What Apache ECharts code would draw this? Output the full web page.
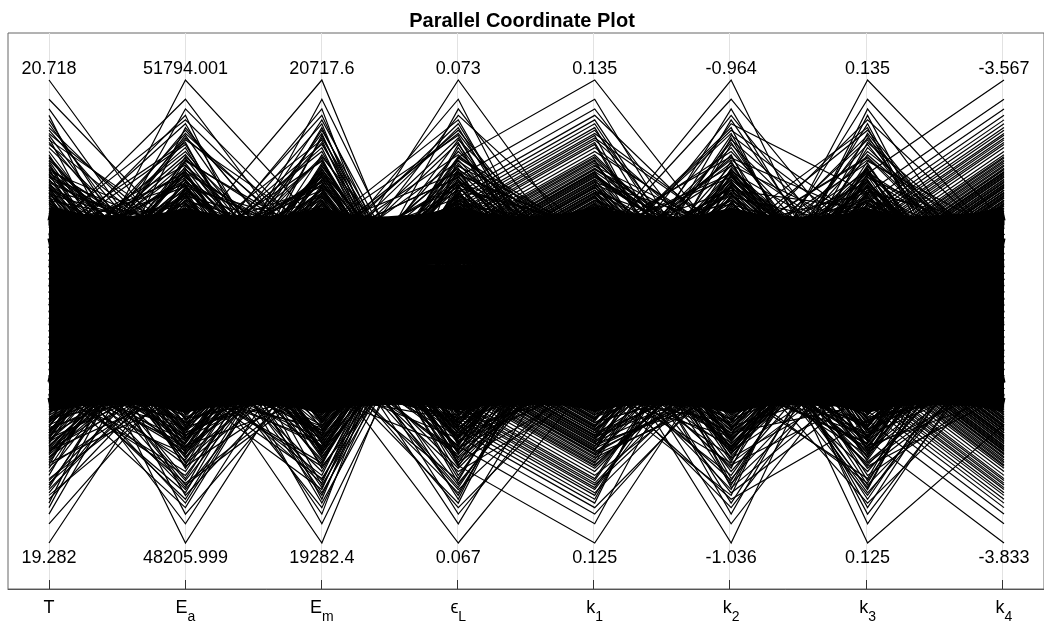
<!DOCTYPE html>
<html>
<head>
<meta charset="utf-8">
<script src="https://cdn.jsdelivr.net/npm/echarts@6.0.0/dist/echarts.min.js"></script>
<style>
html,body{margin:0;padding:0;background:#fff;}
#chart{width:1044px;height:626px;}
</style>
</head>
<body>
<div id="chart"></div>
<script>
// ---------- data ----------
const axisMain = ['T', 'E', 'E', 'ϵ', 'k', 'k', 'k', 'k'];
const axisSub  = ['',  'a', 'm', 'L', '1', '2', '3', '4'];
const nominal  = [20, 50000, 20000, 0.07, 0.13, -1, 0.13, -3.7];
const spreadPct = 3.588;               // data range = nominal ± 3.588 % of |nominal|
const topLabels    = ['20.718', '51794.001', '20717.6', '0.073', '0.135', '-0.964', '0.135', '-3.567'];
const bottomLabels = ['19.282', '48205.999', '19282.4', '0.067', '0.125', '-1.036', '0.125', '-3.833'];

// each line: deviation of [T, Ea, Em, eL, k1, k2, k3, k4] from nominal, in % of |nominal| (upward = positive)
const coreLines = [
  [1.27,1.22,1.28,1.24,1.26,1.21,1.27,1.23],[1.10,1.14,1.08,1.12,1.09,1.13,1.07,1.11],
  [0.93,0.97,0.95,0.91,0.98,0.94,0.96,0.92],[0.82,0.78,0.80,0.84,0.77,0.81,0.79,0.83],
  [0.63,0.67,0.65,0.62,0.66,0.64,0.68,0.63],[0.50,0.48,0.53,0.49,0.51,0.47,0.52,0.50],
  [0.33,0.37,0.34,0.36,0.32,0.35,0.38,0.34],[0.20,0.18,0.22,0.19,0.21,0.23,0.17,0.20],
  [0.04,0.07,0.03,0.06,0.05,0.02,0.06,0.04],[-0.10,-0.12,-0.08,-0.11,-0.09,-0.13,-0.10,-0.07],
  [-0.26,-0.23,-0.27,-0.24,-0.28,-0.25,-0.22,-0.26],[-0.40,-0.43,-0.38,-0.41,-0.39,-0.42,-0.40,-0.37],
  [-0.55,-0.52,-0.57,-0.54,-0.56,-0.53,-0.58,-0.55],[-0.70,-0.72,-0.68,-0.71,-0.69,-0.73,-0.67,-0.70],
  [-0.86,-0.83,-0.87,-0.84,-0.88,-0.85,-0.82,-0.86],[-1.00,-1.03,-0.98,-1.01,-0.99,-1.02,-1.00,-0.97],
  [-1.15,-1.12,-1.17,-1.14,-1.16,-1.13,-1.18,-1.15],[-1.27,-1.24,-1.29,-1.26,-1.28,-1.23,-1.27,-1.25],
  [1.52,1.05,1.50,1.00,1.52,1.04,1.49,1.02],[1.02,1.50,1.04,1.52,1.00,1.50,1.03,1.52],
  [1.44,1.30,1.43,1.28,1.45,1.30,1.42,1.29],[1.29,1.43,1.30,1.44,1.28,1.42,1.31,1.45],
  [-1.45,-1.00,-1.47,-0.96,-1.44,-1.02,-1.46,-0.99],[-0.98,-1.46,-1.01,-1.43,-0.97,-1.47,-1.00,-1.45],
  [-1.38,-1.30,-1.39,-1.29,-1.37,-1.31,-1.38,-1.30],[-1.30,-1.38,-1.29,-1.37,-1.31,-1.39,-1.30,-1.38]
];

const fringeLinesA = [
  [3.588,0.7,3.04,-1.46,-2.66,-0.5,-2.17,0.3],[-3.588,-0.4,-3.04,1.46,2.66,0.8,2.17,-0.9],
  [3.29,1.1,-2.69,0.82,2.02,0.2,-2.76,1.2],[-3.29,-0.9,2.69,-0.82,-2.02,-1.1,2.76,0.1],
  [3.14,0.2,2.38,-1.71,-2.91,1.0,-1.88,-0.6],[-3.14,0.5,-2.38,1.71,2.91,-0.3,1.88,0.8],
  [3.04,-1.2,-2.02,1.13,2.33,0.6,-2.54,-1.1],[-3.04,0.9,2.02,-1.13,-2.33,-0.8,2.54,0.5],
  [2.97,-0.3,1.66,-0.46,-1.66,1.2,-3.29,-0.2],[-2.97,1.3,-1.66,0.46,1.66,-0.1,3.29,1.0],
  [2.91,0.0,-2.85,1.42,2.62,-0.9,-2.22,0.6],[-2.91,-0.7,2.85,-1.42,-2.62,0.4,2.22,-1.3],
  [2.85,0.8,2.59,-0.77,-1.97,0.0,-2.81,-0.4],[-2.85,-1.1,-2.59,0.77,1.97,1.1,2.81,0.2],
  [2.81,0.4,-2.22,1.65,2.85,-0.6,-1.93,0.9],[-2.81,-0.2,2.22,-1.65,-2.85,0.7,1.93,-0.7],
  [2.76,1.0,1.88,-1.07,-2.27,-1.2,-2.59,1.1],[-2.76,-0.6,-1.88,1.07,2.27,0.3,2.59,-0.1],
  [2.73,-0.1,-3.14,2.39,3.588,0.9,-3.588,-1.75],[-2.73,0.6,3.14,-2.39,-3.588,-0.4,3.588,1.4],
  [2.69,-1.3,2.73,-1.39,-2.59,0.5,-2.27,0.7],[-2.69,0.3,-2.73,1.39,2.59,-1.0,2.27,-0.5],
  [2.66,1.2,-2.43,0.73,1.93,-0.2,-2.85,0.0],[-2.66,-0.8,2.43,-0.73,-1.93,1.3,2.85,-1.2],
  [2.62,0.1,2.08,-1.61,-2.81,-0.7,-1.97,1.3],[-2.62,-0.5,-2.08,1.61,2.81,0.1,1.97,-0.3],
  [2.59,0.9,-1.72,1.02,2.22,0.8,-2.62,0.5],[-2.59,-1.0,1.72,-1.02,-2.22,-1.3,2.62,0.8],
  [2.54,0.5,2.91,-2.09,-3.29,0.6,-1.66,-0.8],[-2.54,1.1,-2.91,2.09,3.29,-0.2,1.66,0.1],
  [2.48,-0.3,-2.62,1.34,2.54,1.0,-2.33,-0.6],[-2.48,0.2,2.62,-1.34,-2.54,-0.9,2.33,1.2],
  [2.43,-0.9,2.27,-0.68,-1.88,0.3,-2.91,0.2],[-2.43,0.7,-2.27,0.68,1.88,-0.5,2.91,-1.1],
  [2.38,-0.1,-1.93,1.56,2.76,1.2,-2.02,0.6],[-2.38,1.2,1.93,-1.56,-2.76,0.0,2.02,-0.4],
  [2.33,-0.6,3.29,-0.97,-2.17,-1.1,-2.66,0.9],[-2.33,0.4,-3.29,0.97,2.17,0.7,2.66,0.0],
  [2.27,-1.2,-2.76,1.94,3.14,0.4,-1.72,-0.7],[-2.27,0.0,2.76,-1.94,-3.14,-0.8,1.72,1.1],
  [2.22,0.8,2.48,-1.28,-2.48,-0.3,-2.38,-0.2],[-2.22,-0.4,-2.48,1.28,2.48,1.1,2.38,0.3],
  [2.17,1.3,-2.13,0.64,1.84,-0.6,-2.97,-0.9],[-2.17,-0.7,2.13,-0.64,-1.84,0.9,2.97,1.0],
  [2.13,0.3,1.78,-1.53,-2.73,0.2,-2.08,-1.3],[-2.13,-1.0,-1.78,1.53,2.73,-1.2,2.08,0.7],
  [2.08,0.6,-2.97,0.93,2.13,0.5,-2.69,-0.5],[-2.08,-0.2,2.97,-0.93,-2.13,-0.1,2.69,0.4],
  [2.02,1.0,2.66,-1.84,-3.04,-0.9,-1.78,1.2],[-2.02,-0.8,-2.66,1.84,3.04,1.0,1.78,-0.1],
  [1.97,0.1,-2.33,1.23,2.43,0.3,-2.43,-0.8],[-1.97,0.9,2.33,-1.23,-2.43,-0.4,2.43,0.6],
  [1.93,-1.1,1.97,-0.58,-1.78,0.7,-3.04,0.2],[-1.93,0.5,-1.97,0.58,1.78,-1.0,3.04,-1.0],
  [1.88,-0.5,-3.588,1.49,2.69,1.2,-2.13,0.9],[-1.88,1.1,3.588,-1.49,-2.69,-0.7,2.13,-0.3],
  [1.84,-0.3,2.81,-0.88,-2.08,0.0,-2.73,1.1],[-1.84,0.2,-2.81,0.88,2.08,0.6,2.73,-0.6],
  [1.78,-0.9,-2.54,1.77,2.97,-0.2,-1.84,0.5],[-1.78,0.7,2.54,-1.77,-2.97,1.3,1.84,-1.2],
  [1.72,-0.1,2.17,-1.18,-2.38,-0.5,-2.48,0.0],[-1.72,1.2,-2.17,1.18,2.38,0.1,2.48,0.8],
  [1.66,-0.6,-1.84,0.52,1.72,0.8,-3.14,-0.4],[-1.66,0.4,1.84,-0.52,-1.72,-1.1,3.14,0.3]
];

const fringeLinesB = [
  [-0.6,3.14,1.0,2.81,0.2,-2.38,-1.31,-2.91],[0.9,-3.14,-0.7,-2.81,0.6,2.38,1.46,2.91],
  [0.3,2.81,0.4,-2.33,-1.1,2.22,-0.94,-2.54],[-1.0,-2.81,0.8,2.33,0.9,-2.22,1.09,2.54],
  [1.2,2.62,-1.2,1.78,-0.3,-2.08,-0.48,-2.08],[-0.2,-2.62,0.1,-1.78,1.2,2.08,0.63,2.08],
  [0.5,2.38,-0.4,-2.76,-0.8,1.93,-1.99,-3.588],[-0.8,-2.38,1.1,2.76,0.0,-1.93,2.14,3.588],
  [0.0,2.13,-0.9,2.27,0.5,-1.78,-1.13,-2.73],[1.1,-2.13,0.6,-2.27,-0.6,1.78,1.28,2.73],
  [-1.3,1.88,0.2,-1.72,1.0,3.588,-0.73,-2.33],[0.4,-1.88,-1.0,1.72,-0.2,-3.588,0.88,2.33],
  [-0.5,3.588,1.3,2.73,-0.9,-3.04,-0.28,-1.88],[0.7,-3.588,-0.3,-2.73,0.4,3.04,0.43,1.88],
  [1.0,2.91,-0.6,-2.22,0.8,2.85,-1.37,-2.97],[-0.9,-2.91,0.5,2.22,-1.2,-2.85,1.52,2.97],
  [0.2,2.69,0.9,1.66,1.3,-2.73,-0.99,-2.59],[-0.1,-2.69,-1.1,-1.66,-0.4,2.73,1.14,2.59],
  [0.8,2.48,0.0,-2.69,0.1,2.62,-0.53,-2.13],[-1.2,-2.48,0.7,2.69,-0.7,-2.62,0.68,2.13],
  [0.6,2.22,-0.5,2.17,0.3,-2.48,-0.06,-1.66],[-0.4,-2.22,1.2,-2.17,1.1,2.48,0.21,1.66],
  [1.3,1.97,-0.8,-3.588,-1.0,2.33,-1.16,-2.76],[-0.7,-1.97,0.3,3.588,0.7,-2.33,1.31,2.76],
  [-0.3,1.72,-0.2,2.66,0.6,-2.17,-0.78,-2.38],[0.1,-1.72,1.0,-2.66,-0.1,2.17,0.93,2.38],
  [0.9,3.04,-1.3,-2.13,-0.5,2.02,-0.33,-1.93],[-1.1,-3.04,0.4,2.13,1.2,-2.02,0.48,1.93],
  [0.5,2.76,0.8,3.29,-0.8,-1.88,-1.44,-3.04],[-0.6,-2.76,-0.1,-3.29,0.2,1.88,1.59,3.04],
  [1.1,2.59,-0.9,-2.62,0.9,1.72,-1.02,-2.62],[0.0,-2.59,0.6,2.62,-1.3,-1.72,1.17,2.62],
  [-0.8,2.33,1.1,2.08,0.0,-3.29,-0.57,-2.17],[0.3,-2.33,-0.4,-2.08,1.0,3.29,0.72,2.17],
  [-1.0,2.08,0.2,-3.14,-0.6,2.97,-0.12,-1.72],[0.7,-2.08,-0.7,3.14,0.4,-2.97,0.27,1.72],
  [0.4,1.84,-1.1,2.59,-0.2,-2.81,-1.21,-2.81],[-0.2,-1.84,0.9,-2.59,0.8,2.81,1.36,2.81],
  [1.2,3.29,0.5,-2.02,-1.1,2.69,-0.83,-2.43],[-0.5,-3.29,0.0,2.02,0.5,-2.69,0.98,2.43],
  [-1.3,2.85,0.3,3.04,1.1,-2.59,-0.37,-1.97],[0.8,-2.85,-0.6,-3.04,-0.9,2.59,0.52,1.97],
  [0.1,2.66,1.2,-2.54,0.3,2.43,-1.54,-3.14],[-0.9,-2.66,-1.0,2.54,-0.4,-2.43,1.69,3.14],
  [0.6,2.43,-0.2,1.97,0.7,-2.27,-1.06,-2.66],[1.0,-2.43,0.7,-1.97,-0.1,2.27,1.21,2.66],
  [-0.4,2.17,-0.8,-2.97,1.2,2.13,-0.62,-2.22],[0.2,-2.17,1.3,2.97,-0.7,-2.13,0.77,2.22],
  [-1.1,1.93,0.1,2.48,0.4,-1.97,-0.18,-1.78],[0.9,-1.93,-0.5,-2.48,-1.2,1.97,0.33,1.78],
  [-0.1,1.66,0.6,-1.93,0.9,1.84,-1.25,-2.85],[0.5,-1.66,-1.2,1.93,0.0,-1.84,1.40,2.85],
  [1.3,2.97,0.9,2.91,-0.5,-1.66,-0.88,-2.48],[-0.7,-2.97,0.4,-2.91,1.3,1.66,1.03,2.48],
  [0.0,2.73,-0.3,-2.43,-0.3,3.14,-0.42,-2.02],[-0.3,-2.73,1.0,2.43,0.6,-3.14,0.57,2.02],
  [0.7,2.54,-0.9,1.88,-1.0,-2.91,-1.69,-3.29],[-1.2,-2.54,0.2,-1.88,0.1,2.91,1.84,3.29],
  [1.1,2.27,-0.1,-2.85,0.8,2.76,-1.09,-2.69],[0.3,-2.27,0.8,2.85,-0.6,-2.76,1.24,2.69],
  [-0.8,2.02,-0.6,2.38,1.0,-2.66,-0.67,-2.27],[0.4,-2.02,1.1,-2.38,-0.2,2.66,0.82,2.27],
  [-0.6,1.78,0.0,-1.84,0.5,2.54,-0.24,-1.84],[1.0,-1.78,-1.3,1.84,-0.9,-2.54,0.39,1.84]
];

const hatchLinesC = [
  [2.25,0.3,1.88,-0.95,-2.15,0.9,-1.64,-0.2],[-2.25,-0.8,-1.88,0.95,2.15,-0.3,1.64,1.1],
  [2.00,1.0,-1.60,0.48,1.68,-1.0,-2.10,0.5],[-2.00,-0.2,1.60,-0.48,-1.68,0.5,2.10,-0.9],
  [1.80,0.6,2.35,-1.05,-2.25,0.1,-1.56,0.8],[-1.80,-1.1,-2.35,1.05,2.25,1.2,1.56,-0.4],
  [1.60,0.1,-2.00,0.56,1.76,-0.7,-2.00,1.2],[-1.60,0.9,2.00,-0.56,-1.76,-0.2,2.00,0.0],
  [1.40,-0.5,1.72,-1.15,-2.35,0.8,-1.48,-1.0],[-1.40,1.2,-1.72,1.15,2.35,-1.1,1.48,0.3],
  [2.20,-0.9,-1.44,0.64,1.84,0.4,-1.92,0.7],[-2.20,0.4,1.44,-0.64,-1.84,0.0,1.92,-1.2],
  [1.96,-0.3,2.15,-0.20,-1.40,1.1,-1.40,-0.1],[-1.96,0.7,-2.15,0.20,1.40,-0.6,1.40,0.9],
  [1.76,-1.2,-1.84,0.72,1.92,0.3,-1.84,-0.6],[-1.76,0.2,1.84,-0.72,-1.92,-0.9,1.84,0.4],
  [1.56,1.1,1.56,-0.28,-1.48,-0.4,-2.35,-0.8],[-1.56,-0.6,-1.56,0.28,1.48,0.7,2.35,1.0],
  [2.40,0.0,-2.30,0.80,2.00,1.3,-1.76,0.2],[-2.40,-1.0,2.30,-0.80,-2.00,-0.8,1.76,-0.5],
  [2.15,0.8,1.96,-0.36,-1.56,0.2,-2.25,1.3],[-2.15,-0.4,-1.96,0.36,1.56,-1.2,2.25,-0.3],
  [1.92,0.5,-1.68,0.90,2.10,0.6,-1.68,-1.1],[-1.92,-0.7,1.68,-0.90,-2.10,1.0,1.68,0.6],
  [1.72,1.3,1.40,-0.44,-1.64,-0.5,-2.15,0.1],[-1.72,-0.1,-1.40,0.44,1.64,0.1,2.15,-0.7],
  [1.52,-0.8,-2.10,1.00,2.20,0.9,-1.60,0.8],[-1.52,0.6,2.10,-1.00,-2.20,-0.3,1.60,-0.2],
  [2.35,0.2,1.80,-0.52,-1.72,-1.1,-2.05,0.5],[-2.35,-1.3,-1.80,0.52,1.72,0.5,2.05,-1.0],
  [2.10,0.9,-1.52,1.10,2.30,-0.1,-1.52,1.1],[-2.10,-0.2,1.52,-1.10,-2.30,0.8,1.52,-0.4],
  [1.88,-0.6,2.25,-0.60,-1.80,1.2,-1.96,0.3],[-1.88,1.0,-2.25,0.60,1.80,-0.7,1.96,-0.9],
  [1.68,0.4,-1.92,1.20,2.40,0.3,-1.44,0.0],[-1.68,-0.9,1.92,-1.20,-2.40,-0.4,1.44,0.7],
  [1.48,0.1,1.64,-0.68,-1.88,-1.0,-1.88,-0.6],[-1.48,0.7,-1.64,0.68,1.88,0.6,1.88,1.2],
  [2.30,-1.1,-2.40,0.24,1.44,0.0,-2.40,-1.3],[-2.30,0.3,2.40,-0.24,-1.44,1.1,2.40,0.4],
  [2.05,-0.4,2.05,-0.76,-1.96,-0.8,-1.80,0.9],[-2.05,1.2,-2.05,0.76,1.96,0.4,1.80,-0.1],
  [1.84,-0.7,-1.76,0.32,1.52,-0.2,-2.30,0.6],[-1.84,0.0,1.76,-0.32,-1.52,0.9,2.30,-0.8],
  [1.64,0.8,1.48,-0.85,-2.05,-1.3,-1.72,0.2],[-1.64,-0.5,-1.48,0.85,2.05,0.7,1.72,1.0],
  [1.44,1.1,-2.20,0.40,1.60,0.2,-2.20,-0.5],[-1.44,-0.3,2.20,-0.40,-1.60,-0.6,2.20,-1.2]
];

const hatchLinesD = [
  [0.5,2.30,-0.4,1.80,0.8,-2.05,0.04,-1.56],[-1.0,-2.30,0.7,-1.80,-0.2,2.05,0.11,1.56],
  [0.2,1.96,1.1,-1.60,-0.7,1.52,-0.50,-2.10],[0.8,-1.96,-0.9,1.60,1.0,-1.52,0.65,2.10],
  [-0.6,1.68,0.3,1.40,0.4,-1.96,-0.04,-1.64],[1.1,-1.68,-0.2,-1.40,-1.1,1.96,0.19,1.64],
  [-0.3,1.40,0.8,-2.20,0.1,1.44,-0.60,-2.20],[0.0,-1.40,-1.2,2.20,0.6,-1.44,0.75,2.20],
  [1.2,2.10,0.0,1.96,-0.9,-1.88,-0.12,-1.72],[-0.8,-2.10,0.5,-1.96,0.3,1.88,0.27,1.72],
  [0.4,1.80,-0.7,-1.76,1.2,2.40,-0.70,-2.30],[-1.2,-1.80,1.0,1.76,-0.5,-2.40,0.85,2.30],
  [0.7,1.52,-1.1,1.56,0.0,-1.80,-0.20,-1.80],[-0.1,-1.52,0.2,-1.56,-0.8,1.80,0.35,1.80],
  [-0.5,2.25,0.6,-2.40,0.7,2.30,-0.80,-2.40],[0.9,-2.25,-0.5,2.40,1.1,-2.30,0.95,2.40],
  [0.1,1.92,1.3,2.15,-0.3,-1.72,-0.28,-1.88],[-0.7,-1.92,-0.8,-2.15,0.5,1.72,0.43,1.88],
  [1.3,1.64,-0.1,-1.92,-1.0,2.20,0.16,-1.44],[-0.4,-1.64,0.9,1.92,0.2,-2.20,-0.01,1.44],
  [-0.9,2.40,0.4,1.72,0.9,-1.64,-0.36,-1.96],[0.6,-2.40,-1.0,-1.72,-0.6,1.64,0.51,1.96],
  [0.3,2.05,-0.3,-1.52,-1.2,2.10,0.08,-1.52],[-1.1,-2.05,0.7,1.52,0.4,-2.10,0.07,1.52],
  [1.0,1.76,-0.6,2.35,0.1,-1.56,-0.45,-2.05],[-0.2,-1.76,1.2,-2.35,0.8,1.56,0.60,2.05],
  [-0.6,1.48,0.1,-2.10,-0.4,2.00,0.00,-1.60],[0.8,-1.48,-0.9,2.10,-0.1,-2.00,0.15,1.60],
  [0.0,2.20,0.5,1.88,1.3,-1.48,-0.55,-2.15],[-1.3,-2.20,0.3,-1.88,-0.7,1.48,0.70,2.15],
  [0.5,1.88,-1.3,-1.68,0.6,1.92,-0.08,-1.68],[0.2,-1.88,0.8,1.68,-1.0,-1.92,0.23,1.68],
  [-0.8,1.60,-0.2,1.48,0.3,-1.40,-0.65,-2.25],[1.1,-1.60,0.0,-1.48,0.9,1.40,0.80,2.25],
  [-0.4,2.35,1.0,-2.30,-0.5,1.84,-0.16,-1.76],[0.7,-2.35,-0.7,2.30,0.0,-1.84,0.31,1.76],
  [0.9,2.00,-0.4,2.05,-1.1,-2.35,-0.75,-2.35],[-1.0,-2.00,0.6,-2.05,0.7,2.35,0.90,2.35],
  [0.1,1.72,1.1,-1.84,0.2,1.76,-0.24,-1.84],[-0.3,-1.72,-0.8,1.84,-0.3,-1.76,0.39,1.84],
  [1.2,1.44,0.2,1.64,-0.8,-2.25,0.20,-1.40],[-0.6,-1.44,-1.1,-1.64,1.0,2.25,-0.05,1.40],
  [-0.2,2.15,0.9,-1.44,0.5,1.68,-0.32,-1.92],[0.4,-2.15,-0.3,1.44,-0.6,-1.68,0.47,1.92],
  [-0.9,1.84,0.4,2.25,1.2,-2.15,0.12,-1.48],[0.6,-1.84,-0.6,-2.25,-0.2,2.15,0.03,1.48],
  [1.0,1.56,0.7,-2.00,-0.9,1.60,-0.40,-2.00],[-0.5,-1.56,0.1,2.00,0.4,-1.60,0.55,2.00]
];

const hatchLinesE = [
  [2.00,-0.7,-1.58,0.92,2.12,0.6,-1.88,1.0],[-2.00,0.4,1.58,-0.92,-2.12,-1.1,1.88,-0.3],
  [-1.79,1.0,-2.20,0.50,1.70,0.0,1.55,-0.8],[1.79,-1.2,2.20,-0.50,-1.70,0.9,-1.55,0.5],
  [1.58,0.2,-2.00,0.84,2.04,-0.5,-1.94,1.2],[-1.58,0.8,2.00,-0.84,-2.04,0.3,1.94,-1.1],
  [-2.12,-0.4,-1.85,0.44,1.64,1.2,1.61,0.2],[2.12,-0.9,1.85,-0.44,-1.64,-0.8,-1.61,0.7],
  [1.88,1.3,-1.70,0.77,1.97,-0.2,-2.00,-0.5],[-1.88,0.0,1.70,-0.77,-1.97,1.0,2.00,-0.1],
  [-1.67,-0.5,-1.55,0.38,1.58,-1.3,1.67,0.9],[1.67,0.6,1.55,-0.38,-1.58,0.4,-1.67,-1.2],
  [1.46,1.1,-2.16,0.71,1.91,0.7,-2.08,0.4],[-1.46,-0.3,2.16,-0.71,-1.91,-0.6,2.08,1.1],
  [-1.97,-1.0,-1.97,0.32,1.52,0.1,1.73,-0.7],[1.97,0.5,1.97,-0.32,-1.52,-0.9,-1.73,0.0],
  [1.76,0.9,-1.82,0.65,1.85,1.1,-2.16,-0.4],[-1.76,-0.8,1.82,-0.65,-1.85,0.2,2.16,0.8],
  [-1.55,0.1,-1.67,0.26,1.46,-1.0,1.79,-1.3],[1.55,-0.6,1.67,-0.26,-1.46,0.8,-1.79,0.6],
  [2.08,1.2,-1.52,0.59,1.79,-0.4,-1.46,0.1],[-2.08,-0.2,1.52,-0.59,-1.79,0.5,1.46,-0.9],
  [-1.85,0.3,-2.12,0.96,2.16,-0.7,1.85,1.3],[1.85,-1.1,2.12,-0.96,-2.16,1.3,-1.85,-0.2],
  [1.64,0.7,-1.94,0.53,1.73,0.0,-1.52,-0.6],[-1.64,-1.3,1.94,-0.53,-1.73,-0.3,1.52,0.9],
  [-2.20,0.0,-1.79,0.88,2.08,0.9,1.91,0.3],[2.20,0.9,1.79,-0.88,-2.08,-1.2,-1.91,-1.0],
  [1.94,-0.4,-1.64,0.47,1.67,0.4,-1.58,1.1],[-1.94,1.0,1.64,-0.47,-1.67,0.6,1.58,-0.4],
  [-1.73,0.2,-1.49,0.80,2.00,-0.8,1.97,0.0],[1.73,-0.7,1.49,-0.80,-2.00,1.0,-1.97,0.7],
  [1.52,-1.1,-2.08,0.41,1.61,-0.1,-1.64,-1.2],[-1.52,0.6,2.08,-0.41,-1.61,0.7,1.64,0.5],
  [-2.04,0.4,-1.91,0.74,1.94,-0.5,2.04,-0.8],[2.04,-0.1,1.91,-0.74,-1.94,-1.1,-2.04,1.2],
  [1.82,1.2,-1.76,0.35,1.55,0.3,-1.70,-0.1],[-1.82,-0.9,1.76,-0.35,-1.55,1.2,1.70,-0.5],
  [-1.61,-0.3,-1.61,0.68,1.88,-0.6,2.12,0.8],[1.61,0.8,1.61,-0.68,-1.88,0.0,-2.12,-1.1],
  [2.16,0.5,-1.46,0.29,1.49,-0.9,-1.76,0.6],[-2.16,-1.2,1.46,-0.29,-1.49,0.8,1.76,0.2],
  [-1.91,1.1,-2.04,0.62,1.82,0.2,2.20,-0.3],[1.91,-0.5,2.04,-0.62,-1.82,-0.4,-2.20,1.0],
  [1.70,-0.8,-1.88,1.00,2.20,1.1,-1.82,-0.9],[-1.70,0.3,1.88,-1.00,-2.20,-1.0,1.82,0.4],
  [-1.49,0.0,-1.73,0.56,1.76,0.5,1.49,-1.3],[1.49,0.7,1.73,-0.56,-1.76,-0.2,-1.49,0.1]
];

const hatchLinesF = [
  [0.8,2.04,-0.3,-1.55,1.1,1.88,-0.13,-1.73],[-0.5,-2.04,0.9,1.55,-0.4,-1.88,0.28,1.73],
  [-1.1,-1.70,0.5,-1.88,0.2,1.73,0.07,1.52],[0.3,1.70,-1.0,1.88,-0.9,-1.73,0.08,-1.52],
  [0.6,2.12,-0.6,-1.49,0.7,1.58,-0.44,-2.04],[-0.9,-2.12,1.2,1.49,0.0,-1.58,0.59,2.04],
  [1.2,-1.76,0.0,-1.82,-1.2,2.20,0.37,1.82],[0.0,1.76,-0.8,1.82,0.5,-2.20,-0.22,-1.82],
  [-0.3,2.20,0.7,-2.20,-0.6,2.00,-0.01,-1.61],[1.0,-2.20,-0.2,2.20,0.9,-2.00,0.16,1.61],
  [-0.7,-1.82,1.1,-1.76,0.3,1.85,0.71,2.16],[0.4,1.82,-1.2,1.76,-0.3,-1.85,-0.56,-2.16],
  [-1.3,1.49,0.3,-2.12,-1.0,1.70,-0.31,-1.91],[0.2,-1.49,-0.5,2.12,1.2,-1.70,0.46,1.91],
  [0.9,-1.88,-0.9,-1.70,0.1,1.55,0.25,1.70],[-0.6,1.88,0.6,1.70,-0.7,-1.55,-0.10,-1.70],
  [0.5,1.55,1.3,-2.04,0.8,2.16,0.11,-1.49],[-1.0,-1.55,-0.1,2.04,0.4,-2.16,0.04,1.49],
  [-0.2,-1.94,0.4,-1.64,-1.1,1.97,0.55,2.00],[1.1,1.94,-0.7,1.64,-0.2,-1.97,-0.40,-2.00],
  [0.1,1.61,-1.1,-1.97,0.6,1.82,-0.19,-1.79],[-0.8,-1.61,0.8,1.97,1.0,-1.82,0.34,1.79],
  [0.7,-2.00,0.2,-1.58,-0.5,1.67,0.13,1.58],[-0.4,2.00,1.0,1.58,-0.8,-1.67,0.02,-1.58],
  [1.3,1.67,-0.4,-1.91,0.0,1.52,-0.52,-2.12],[-1.2,-1.67,0.0,1.91,1.3,-1.52,0.67,2.12],
  [0.0,-2.08,-1.3,-1.52,-0.9,2.12,0.43,1.88],[0.6,2.08,0.5,1.52,0.2,-2.12,-0.28,-1.88],
  [-0.5,1.73,0.9,-1.85,0.5,1.94,-0.07,-1.67],[0.3,-1.73,-0.6,1.85,-1.3,-1.94,0.22,1.67],
  [-0.9,-2.16,0.1,-1.46,0.9,1.79,0.01,1.46],[1.0,2.16,-0.9,1.46,-0.1,-1.79,0.14,-1.46],
  [0.4,1.79,1.2,-1.79,-0.6,1.64,-0.37,-1.97],[-0.1,-1.79,-0.3,1.79,0.4,-1.64,0.52,1.97],
  [-1.1,-1.46,0.6,-2.16,1.1,1.49,0.31,1.76],[0.8,1.46,-1.0,2.16,-0.4,-1.49,-0.16,-1.76],
  [-0.6,1.85,0.7,-1.73,0.0,2.08,0.05,-1.55],[0.2,-1.85,0.3,1.73,-1.0,-2.08,0.10,1.55],
  [1.2,-1.52,-0.5,-2.08,0.7,1.91,0.63,2.08],[-0.3,1.52,1.1,2.08,0.3,-1.91,-0.48,-2.08],
  [-0.8,1.91,-0.2,-1.67,-0.2,1.76,-0.25,-1.85],[0.5,-1.91,-0.8,1.67,0.8,-1.76,0.40,1.85],
  [0.9,-1.58,0.4,-2.00,-0.7,1.61,0.19,1.64],[-1.0,1.58,0.8,2.00,1.2,-1.61,-0.04,-1.64],
  [0.1,1.97,-1.2,-1.61,0.6,1.46,-0.60,-2.20],[-0.4,-1.97,0.0,1.61,-1.1,-1.46,0.75,2.20],
  [1.1,-1.64,-0.7,-1.94,0.2,2.04,0.49,1.94],[-0.7,1.64,0.5,1.94,-0.5,-2.04,-0.34,-1.94]
];

// ---------- layout constants ----------
const FONT = '"Liberation Sans", Arial, Helvetica, "DejaVu Sans", sans-serif';
const W = 1044, H = 626;
const axisX0 = 49, axisX7 = 1004;       // first / last parallel axis
const plotTop = 80, plotBottom = 543;   // data max / min
const frameL = 8, frameR = 1046, frameT = 33, frameB = 589;

const axisMin = nominal.map(v => v - Math.abs(v) * spreadPct / 100);
const axisMax = nominal.map(v => v + Math.abs(v) * spreadPct / 100);
const toRow = z => z.map((d, i) => nominal[i] + Math.abs(nominal[i]) * d / 100);

const unit = (axisX7 - axisX0) / 7;
const xMin = -(axisX0 - frameL) / unit;
const xMax = xMin + (frameR - frameL) / unit;

const chart = echarts.init(document.getElementById('chart'), null, {renderer: 'canvas'});

const parallelAxis = axisMain.map((m, i) => ({
  dim: i,
  min: axisMin[i],
  max: axisMax[i],
  name: axisSub[i] ? '{m|' + m + '}{s|' + axisSub[i] + '}' : '{m|' + m + '}',
  nameLocation: 'start',
  nameGap: 63,
  nameTextStyle: {
    align: 'center',
    verticalAlign: 'top',
    color: '#000',
    fontFamily: FONT,
    fontSize: 18,
    rich: {
      m: {fontFamily: FONT, fontSize: 18, lineHeight: 18, color: '#000', verticalAlign: 'bottom', padding: [0, 0, 7, 0]},
      s: {fontFamily: FONT, fontSize: 14, lineHeight: 14, color: '#000', verticalAlign: 'bottom'}
    }
  },
  axisLine: {show: false},
  axisTick: {show: false},
  splitLine: {show: false},
  axisLabel: {
    show: true,
    customValues: [axisMin[i], axisMax[i]],
    margin: 0,
    align: 'center',
    verticalAlign: 'middle',
    color: '#000',
    fontFamily: FONT,
    fontSize: 18,
    formatter: v => (v > nominal[i] ? '{t|' + topLabels[i] + '}' : '{b|' + bottomLabels[i] + '}'),
    rich: {
      t: {fontFamily: FONT, fontSize: 18, color: '#000', padding: [0, 0, 21, 0]},
      b: {fontFamily: FONT, fontSize: 18, color: '#000', padding: [31, 0, 0, 0]}
    }
  }
}));

const seriesBase = {
  type: 'parallel',
  silent: true,
  smooth: false,
  inactiveOpacity: 1,
  activeOpacity: 1,
  animation: false,
  emphasis: {disabled: true},
  progressive: 0
};
const thin = {color: '#000', width: 1.2, opacity: 1};

const option = {
  animation: false,
  backgroundColor: '#fff',
  textStyle: {fontFamily: FONT},
  title: {
    text: 'Parallel Coordinate Plot',
    left: 'center',
    top: 6,
    textStyle: {fontFamily: FONT, fontWeight: 'bold', fontSize: 20, color: '#000'}
  },
  grid: {
    left: frameL, right: W - frameR, top: frameT, bottom: H - frameB,
    show: true, borderColor: '#666', borderWidth: 1, backgroundColor: 'transparent'
  },
  xAxis: {
    type: 'value', min: xMin, max: xMax,
    axisLine: {show: true, onZero: false, lineStyle: {color: '#555'}},
    axisTick: {show: true, inside: true, length: 9, customValues: [0, 1, 2, 3, 4, 5, 6, 7], lineStyle: {color: '#333'}},
    axisLabel: {show: false},
    splitLine: {show: true, lineStyle: {color: '#e2e2e2', width: 1}}
  },
  yAxis: {type: 'value', min: 0, max: 1, show: false},
  parallel: {
    left: axisX0, right: W - axisX7, top: plotTop, bottom: H - plotBottom,
    parallelAxisDefault: {type: 'value'}
  },
  parallelAxis: parallelAxis,
  series: [
    Object.assign({}, seriesBase, {
      name: 'core', data: coreLines.map(toRow),
      lineStyle: {color: '#000', width: 14, opacity: 1, join: 'round', cap: 'butt'}
    }),
    Object.assign({}, seriesBase, {name: 'hatchC', data: hatchLinesC.map(toRow), lineStyle: thin}),
    Object.assign({}, seriesBase, {name: 'hatchD', data: hatchLinesD.map(toRow), lineStyle: thin}),
    Object.assign({}, seriesBase, {name: 'hatchE', data: hatchLinesE.map(toRow), lineStyle: thin}),
    Object.assign({}, seriesBase, {name: 'hatchF', data: hatchLinesF.map(toRow), lineStyle: thin}),
    Object.assign({}, seriesBase, {name: 'fringeA', data: fringeLinesA.map(toRow), lineStyle: thin}),
    Object.assign({}, seriesBase, {name: 'fringeB', data: fringeLinesB.map(toRow), lineStyle: thin})
  ]
};

chart.setOption(option);
</script>
</body>
</html>
